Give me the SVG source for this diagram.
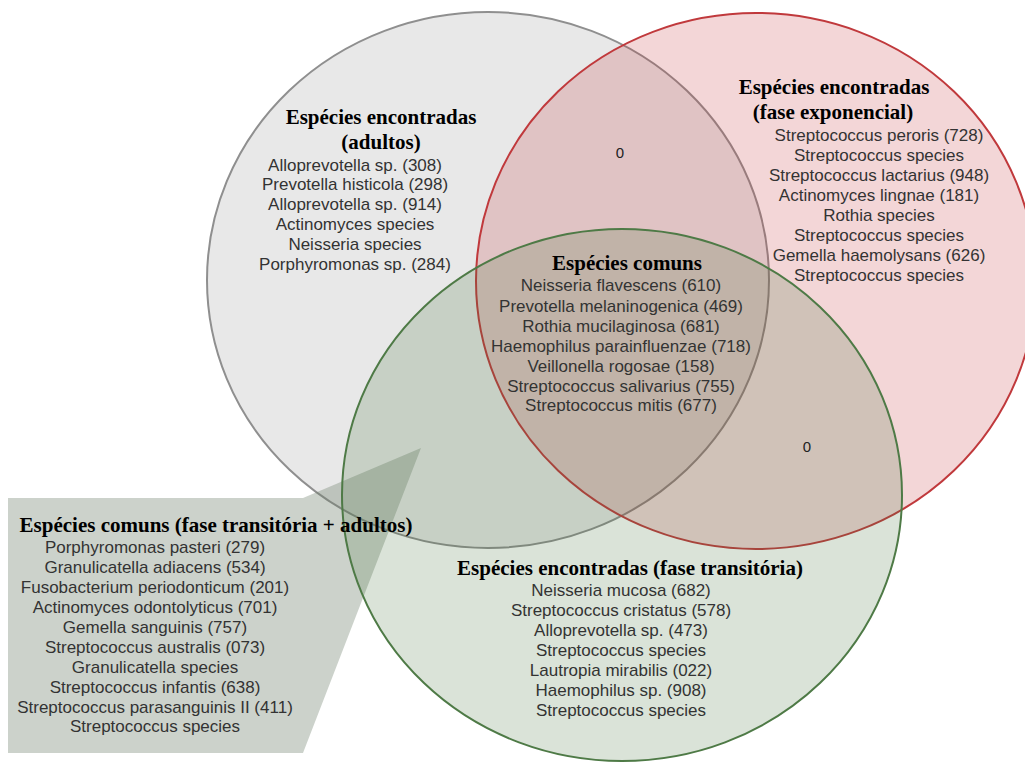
<svg xmlns="http://www.w3.org/2000/svg" width="1025" height="762" viewBox="0 0 1025 762">
<style>
.t{font-family:"Liberation Serif","Times New Roman",serif;font-weight:bold;font-size:21px;fill:#000;text-anchor:middle}
.s{font-family:"Liberation Sans",Arial,sans-serif;font-size:17px;fill:#333;text-anchor:middle}
.z{font-family:"Liberation Sans",Arial,sans-serif;font-size:15px;fill:#222;text-anchor:middle}
</style>
<rect width="1025" height="762" fill="#fff"/>
<g id="adultos">
<ellipse cx="488" cy="280" rx="281" ry="268" fill="rgb(120,120,120)" fill-opacity="0.17" stroke="#8f8f8f" stroke-width="2"/>
</g>
<g id="exponencial">
<ellipse cx="756" cy="281" rx="280" ry="268" fill="rgb(195,50,55)" fill-opacity="0.2" stroke="#c0393c" stroke-width="2"/>
</g>
<g id="comuns-transitoria-adultos">
<polygon points="8,498 303,498 421,448 303,753 8,753" fill="rgb(110,125,105)" fill-opacity="0.35"/>
</g>
<g id="transitoria">
<ellipse cx="622" cy="495" rx="280" ry="266" fill="rgb(70,115,60)" fill-opacity="0.2" stroke="#4e7a46" stroke-width="2"/>
</g>
<g id="connectors"/>
<g id="adultos-text">
<text class="t" x="381" y="124">Espécies encontradas</text>
<text class="t" x="381" y="149">(adultos)</text>
<text class="s" x="355" y="171">Alloprevotella sp. (308)</text>
<text class="s" x="355" y="190">Prevotella histicola (298)</text>
<text class="s" x="355" y="210">Alloprevotella sp. (914)</text>
<text class="s" x="355" y="230">Actinomyces species</text>
<text class="s" x="355" y="250">Neisseria species</text>
<text class="s" x="355" y="270">Porphyromonas sp. (284)</text>
</g>
<g id="zero-adultos-exponencial"><text class="z" x="620" y="158">0</text></g>
<g id="exponencial-text">
<text class="t" x="834" y="94">Espécies encontradas</text>
<text class="t" x="833" y="119">(fase exponencial)</text>
<text class="s" x="879" y="141">Streptococcus peroris (728)</text>
<text class="s" x="879" y="161">Streptococcus species</text>
<text class="s" x="879" y="181">Streptococcus lactarius (948)</text>
<text class="s" x="879" y="201">Actinomyces lingnae (181)</text>
<text class="s" x="879" y="221">Rothia species</text>
<text class="s" x="879" y="241">Streptococcus species</text>
<text class="s" x="879" y="261">Gemella haemolysans (626)</text>
<text class="s" x="879" y="281">Streptococcus species</text>
</g>
<g id="comuns">
<text class="t" x="627" y="270">Espécies comuns</text>
<text class="s" x="621" y="291">Neisseria flavescens (610)</text>
<text class="s" x="621" y="312">Prevotella melaninogenica (469)</text>
<text class="s" x="621" y="332">Rothia mucilaginosa (681)</text>
<text class="s" x="621" y="352">Haemophilus parainfluenzae (718)</text>
<text class="s" x="621" y="372">Veillonella rogosae (158)</text>
<text class="s" x="621" y="392">Streptococcus salivarius (755)</text>
<text class="s" x="621" y="411">Streptococcus mitis (677)</text>
</g>
<g id="zero-exponencial-transitoria"><text class="z" x="807" y="452">0</text></g>
<g id="transitoria-text">
<text class="t" x="630" y="575">Espécies encontradas (fase transitória)</text>
<text class="s" x="621" y="596">Neisseria mucosa (682)</text>
<text class="s" x="621" y="616">Streptococcus cristatus (578)</text>
<text class="s" x="621" y="636">Alloprevotella sp. (473)</text>
<text class="s" x="621" y="656">Streptococcus species</text>
<text class="s" x="621" y="676">Lautropia mirabilis (022)</text>
<text class="s" x="621" y="696">Haemophilus sp. (908)</text>
<text class="s" x="621" y="716">Streptococcus species</text>
</g>
<g id="comuns-transitoria-adultos-text">
<text class="t" x="216" y="532">Espécies comuns (fase transitória + adultos)</text>
<text class="s" x="155" y="553">Porphyromonas pasteri (279)</text>
<text class="s" x="155" y="573">Granulicatella adiacens (534)</text>
<text class="s" x="155" y="593">Fusobacterium periodonticum (201)</text>
<text class="s" x="155" y="613">Actinomyces odontolyticus (701)</text>
<text class="s" x="155" y="633">Gemella sanguinis (757)</text>
<text class="s" x="155" y="653">Streptococcus australis (073)</text>
<text class="s" x="155" y="673">Granulicatella species</text>
<text class="s" x="155" y="693">Streptococcus infantis (638)</text>
<text class="s" x="155" y="713">Streptococcus parasanguinis II (411)</text>
<text class="s" x="155" y="732">Streptococcus species</text>
</g>
</svg>
